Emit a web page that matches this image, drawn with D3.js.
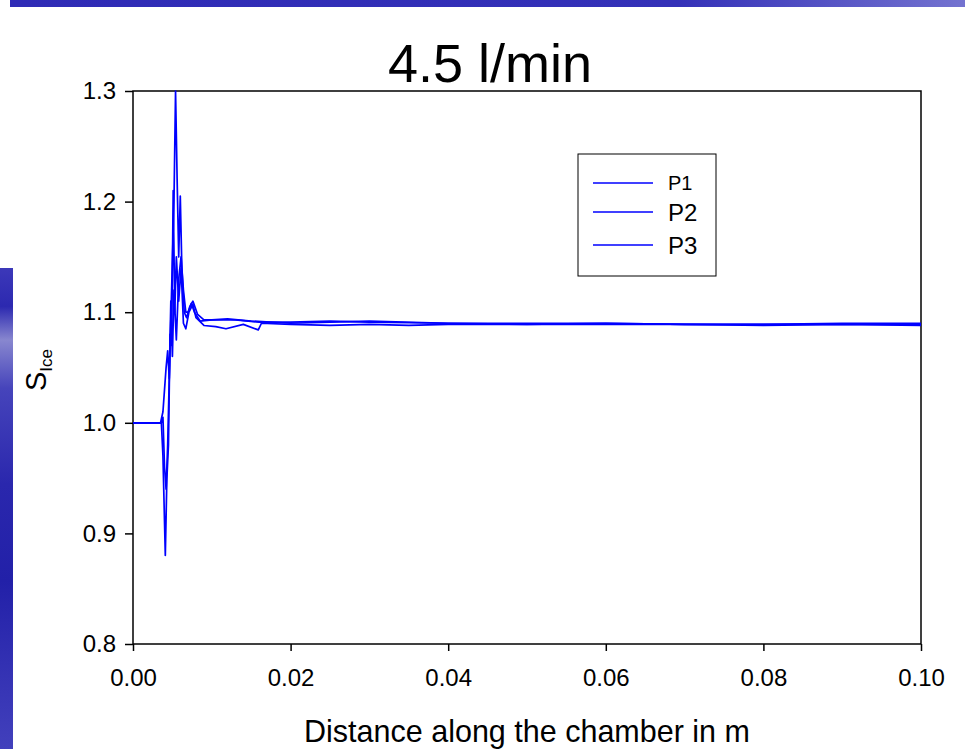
<!DOCTYPE html>
<html>
<head>
<meta charset="utf-8">
<script src="https://cdn.jsdelivr.net/npm/d3@7.9.0/dist/d3.min.js"></script>
<style>
  body { margin: 0; background: #fff; }
  svg { display: block; font-family: "Liberation Sans", Arial, sans-serif; }
</style>
</head>
<body>
<svg id="chart" width="965" height="749"></svg>
<script>
const seriesNames = ["P1", "P2", "P3"];
const xTicks = [0, 0.02, 0.04, 0.06, 0.08, 0.1];
const yTicks = [0.8, 0.9, 1.0, 1.1, 1.2, 1.3];

// [distance m, S_ice]
const p1 = [
  [0, 1.0], [0.0035, 1.0], [0.0038, 1.01], [0.004, 1.03], [0.0042, 1.05], [0.0044, 1.065],
  [0.0046, 1.04], [0.0049, 1.12], [0.0052, 1.2], [0.0054, 1.3], [0.0056, 1.22], [0.0058, 1.15],
  [0.006, 1.205], [0.0062, 1.14], [0.0065, 1.1], [0.0068, 1.095], [0.0072, 1.105], [0.0076, 1.11],
  [0.0082, 1.098], [0.009, 1.093], [0.011, 1.093], [0.013, 1.093], [0.016, 1.091], [0.02, 1.091],
  [0.025, 1.092], [0.03, 1.091], [0.04, 1.09], [0.05, 1.09], [0.06, 1.09], [0.07, 1.089],
  [0.08, 1.089], [0.09, 1.09], [0.1, 1.09]
];
const p2 = [
  [0, 1.0], [0.0036, 1.0], [0.0038, 0.97], [0.0041, 0.88], [0.0043, 0.95], [0.0045, 0.98],
  [0.0047, 1.08], [0.0049, 1.07], [0.0051, 1.21], [0.0053, 1.1], [0.0055, 1.15], [0.0058, 1.11],
  [0.0061, 1.14], [0.0064, 1.09], [0.0067, 1.085], [0.0071, 1.1], [0.0076, 1.107], [0.008, 1.095],
  [0.009, 1.088], [0.0105, 1.087], [0.0118, 1.085], [0.014, 1.089], [0.0159, 1.084], [0.0163, 1.09],
  [0.02, 1.089], [0.025, 1.088], [0.03, 1.089], [0.035, 1.088], [0.04, 1.089], [0.05, 1.089],
  [0.06, 1.089], [0.07, 1.089], [0.08, 1.088], [0.09, 1.089], [0.1, 1.088]
];
const p3 = [
  [0, 1.0], [0.0036, 1.0], [0.0038, 1.005], [0.004, 0.96], [0.0042, 0.94], [0.0044, 0.98],
  [0.0046, 1.04], [0.0048, 1.11], [0.005, 1.06], [0.0052, 1.12], [0.0055, 1.075], [0.0058, 1.13],
  [0.0061, 1.15], [0.0064, 1.12], [0.0067, 1.1], [0.007, 1.1], [0.0074, 1.108], [0.0078, 1.1],
  [0.0085, 1.092], [0.01, 1.093], [0.012, 1.094], [0.015, 1.092], [0.02, 1.09], [0.025, 1.091],
  [0.03, 1.092], [0.04, 1.09], [0.05, 1.089], [0.06, 1.09], [0.07, 1.089], [0.08, 1.089],
  [0.09, 1.089], [0.1, 1.089]
];
const series = [p1, p2, p3];

const svg = d3.select("#chart");
const margin = { left: 133, right: 44, top: 91, bottom: 105 };
const width = 965, height = 749;

const x = d3.scaleLinear().domain([0, 0.1]).range([margin.left, width - margin.right]);
const y = d3.scaleLinear().domain([0.8, 1.3]).range([height - margin.bottom, margin.top]);

// decorative slide bars
const defs = svg.append("defs");
const gTop = defs.append("linearGradient").attr("id", "gTop");
gTop.append("stop").attr("offset", "0%").attr("stop-color", "#2f2bb6");
gTop.append("stop").attr("offset", "70%").attr("stop-color", "#3431b8");
gTop.append("stop").attr("offset", "100%").attr("stop-color", "#7473d0");
svg.append("rect").attr("x", 10).attr("y", 0).attr("width", 955).attr("height", 7).attr("fill", "url(#gTop)");

const gLeft = defs.append("linearGradient").attr("id", "gLeft")
  .attr("x1", 0).attr("y1", 0).attr("x2", 0).attr("y2", 1);
[["0%", "#3c38b9"], ["8%", "#2c29b0"], ["15%", "#8887cf"], ["25%", "#4644bb"], ["45%", "#2a27ad"],
 ["65%", "#2220a8"], ["85%", "#3533b4"], ["100%", "#4240bc"]].forEach(([o, c]) =>
  gLeft.append("stop").attr("offset", o).attr("stop-color", c));
svg.append("rect").attr("x", 0).attr("y", 268).attr("width", 13).attr("height", 481).attr("fill", "url(#gLeft)");

// axes
svg.append("g")
  .attr("transform", `translate(0,${y(0.8)})`)
  .call(d3.axisBottom(x).tickValues(xTicks).tickFormat(d3.format(".2f")).tickSize(7).tickSizeOuter(0))
  .call((g) => {
    g.select(".domain").remove();
    g.selectAll("line").attr("stroke", "#000").attr("stroke-width", 1.5);
    g.selectAll("text").attr("font-size", 24).attr("fill", "#000").attr("dy", "1.33em");
  });

svg.append("g")
  .attr("transform", `translate(${margin.left},0)`)
  .call(d3.axisLeft(y).tickValues(yTicks).tickFormat(d3.format(".1f")).tickSize(8).tickSizeOuter(0))
  .call((g) => {
    g.select(".domain").remove();
    g.selectAll("line").attr("stroke", "#000").attr("stroke-width", 1.5);
    g.selectAll("text").attr("font-size", 24).attr("fill", "#000").attr("x", -17);
  });

// frame
svg.append("rect")
  .attr("x", x(0)).attr("y", y(1.3))
  .attr("width", x(0.1) - x(0)).attr("height", y(0.8) - y(1.3))
  .attr("fill", "none").attr("stroke", "#000").attr("stroke-width", 1.5);

// lines
const line = d3.line().x((d) => x(d[0])).y((d) => y(d[1]));
svg.append("defs").append("clipPath").attr("id", "clip")
  .append("rect").attr("x", x(0)).attr("y", y(1.3) - 1).attr("width", x(0.1) - x(0)).attr("height", y(0.8) - y(1.3) + 1);
svg.append("g").attr("clip-path", "url(#clip)")
  .selectAll("path").data(series).join("path")
  .attr("d", line)
  .attr("fill", "none")
  .attr("stroke", "#0000ff")
  .attr("stroke-width", 1.7)
  .attr("stroke-linejoin", "round");

// title
svg.append("text").attr("x", 490).attr("y", 82).attr("text-anchor", "middle")
  .attr("font-size", 54).attr("fill", "#000").text("4.5 l/min");

// x label
svg.append("text").attr("x", (x(0) + x(0.1)) / 2).attr("y", 742).attr("text-anchor", "middle")
  .attr("font-size", 30.5).attr("fill", "#000").text("Distance along the chamber in m");

// y label
const yl = svg.append("text").attr("transform", "translate(46,370) rotate(-90)")
  .attr("text-anchor", "middle").attr("fill", "#000").attr("font-size", 29);
yl.append("tspan").text("S");
yl.append("tspan").attr("font-size", 17).attr("dy", 6).text("Ice");

// legend
const legend = svg.append("g");
legend.append("rect").attr("x", 578).attr("y", 154).attr("width", 138).attr("height", 122)
  .attr("fill", "#fff").attr("stroke", "#000").attr("stroke-width", 1);
const legendY = [183, 212, 245];
const legendSize = [20, 24, 24];
seriesNames.forEach((name, i) => {
  legend.append("line").attr("x1", 593).attr("x2", 653)
    .attr("y1", legendY[i]).attr("y2", legendY[i])
    .attr("stroke", "#0000ff").attr("stroke-width", 1.5);
  legend.append("text").attr("x", 668).attr("y", legendY[i]).attr("dy", "0.36em")
    .attr("font-size", legendSize[i]).attr("fill", "#000").text(name);
});
</script>
</body>
</html>
